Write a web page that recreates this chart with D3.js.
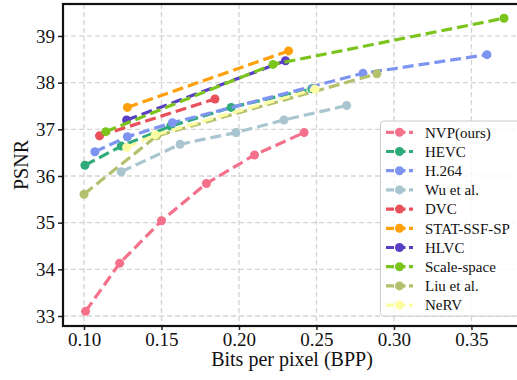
<!DOCTYPE html>
<html><head><meta charset="utf-8">
<script src="https://cdn.jsdelivr.net/npm/d3@7"></script>
<style>html,body{margin:0;padding:0;background:#fff;overflow:hidden}
svg text{font-family:"Liberation Serif","Tinos","DejaVu Serif",serif;}</style>
</head><body><svg id="c" width="517" height="380"></svg>
<script>
const seriesNames = ["NVP(ours)","HEVC","H.264","Wu et al.","DVC","STAT-SSF-SP","HLVC","Scale-space","Liu et al.","NeRV"];
const colors = ["#f5708a","#2eab79","#7d95f0","#a9c5cf","#e9505a","#ff9f0a","#5a3fc5","#7ac41c","#b4c06c","#fcfca3"];
const nvpX = [0.101,0.123,0.150,0.179,0.210,0.242];
const nvpY = [33.10,34.13,35.04,35.84,36.45,36.93];
const hevcX = [0.1006,0.124,0.156,0.195,0.247];
const hevcY = [36.23,36.64,37.07,37.47,37.87];
const h264X = [0.107,0.128,0.157,0.280,0.360];
const h264Y = [36.52,36.84,37.14,38.20,38.60];
const wuX = [0.124,0.162,0.198,0.229,0.2695];
const wuY = [36.09,36.68,36.93,37.20,37.51];
const dvcX = [0.110,0.1845];
const dvcY = [36.86,37.65];
const statX = [0.128,0.232];
const statY = [37.47,38.68];
const hlvcX = [0.1275,0.230];
const hlvcY = [37.20,38.47];
const scaleX = [0.114,0.222,0.371];
const scaleY = [36.95,38.39,39.38];
const liuX = [0.100,0.147,0.289];
const liuY = [35.61,36.86,38.19];
const nervX = [0.1275,0.146,0.249];
const nervY = [36.61,36.88,37.86];
const xTicks = [0.10,0.15,0.20,0.25,0.30,0.35];
const yTicks = [33,34,35,36,37,38,39];

const allX = [nvpX,hevcX,h264X,wuX,dvcX,statX,hlvcX,scaleX,liuX,nervX];
const allY = [nvpY,hevcY,h264Y,wuY,dvcY,statY,hlvcY,scaleY,liuY,nervY];

const L=63, R=524, T=4, B=326;
const x = d3.scaleLinear().domain([0.08645,0.3839]).range([L,R]);
const y = d3.scaleLinear().domain([32.786,39.685]).range([B,T]);
const svg = d3.select("#c");

// grid
const g = svg.append("g");
g.selectAll(".gx").data(xTicks).join("line")
 .attr("x1",d=>x(d)).attr("x2",d=>x(d)).attr("y1",T).attr("y2",B)
 .attr("stroke","#d4d4d4").attr("stroke-width",1.3).attr("stroke-dasharray","5,3");
g.selectAll(".gy").data(yTicks).join("line")
 .attr("x1",L).attr("x2",R).attr("y1",d=>y(d)).attr("y2",d=>y(d))
 .attr("stroke","#d4d4d4").attr("stroke-width",1.3).attr("stroke-dasharray","5,3");

// series
const line = d3.line().x(d=>x(d[0])).y(d=>y(d[1]));
seriesNames.forEach((name,i)=>{
  const pts = allX[i].map((v,j)=>[v,allY[i][j]]);
  const sg = svg.append("g");
  sg.append("path").datum(pts).attr("d",line).attr("fill","none")
    .attr("stroke",colors[i]).attr("stroke-width",3.2).attr("stroke-dasharray","11,5");
  sg.selectAll("circle").data(pts).join("circle")
    .attr("cx",d=>x(d[0])).attr("cy",d=>y(d[1])).attr("r",4.5).attr("fill",colors[i]);
});

// axes
const xAxis = svg.append("g").attr("transform",`translate(0,${B})`)
  .call(d3.axisBottom(x).tickValues(xTicks).tickFormat(d3.format(".2f")).tickSize(4).tickPadding(2));
const yAxis = svg.append("g").attr("transform",`translate(${L},0)`)
  .call(d3.axisLeft(y).tickValues(yTicks).tickFormat(d3.format("d")).tickSize(5).tickPadding(3));
[xAxis,yAxis].forEach(a=>{
  a.select(".domain").remove();
  a.selectAll("line").attr("stroke","#222").attr("stroke-width",1.5);
  a.selectAll("text").attr("font-family",null).attr("font-size",19).attr("fill","#111");
});
xAxis.selectAll("text").attr("dy","0.72em");

// frame
svg.append("rect").attr("x",L).attr("y",T).attr("width",R-L).attr("height",B-T)
  .attr("fill","none").attr("stroke","#111").attr("stroke-width",2.2);

// labels
svg.append("text").attr("x",292).attr("y",366).attr("text-anchor","middle")
  .attr("font-size",20).attr("fill","#111").text("Bits per pixel (BPP)");
svg.append("text").attr("transform","translate(28,165) rotate(-90)").attr("text-anchor","middle")
  .attr("font-size",20).attr("fill","#111").text("PSNR");

// legend
const lg = svg.append("g");
lg.append("rect").attr("x",380.5).attr("y",121).attr("width",150).attr("height",195).attr("rx",3)
  .attr("fill","#fff").attr("fill-opacity",0.8).attr("stroke","#cccccc").attr("stroke-width",1);
seriesNames.forEach((name,i)=>{
  const cy = 132.3 + i*19.2;
  lg.append("line").attr("x1",386).attr("x2",413).attr("y1",cy).attr("y2",cy)
    .attr("stroke",colors[i]).attr("stroke-width",3.2).attr("stroke-dasharray","8,3.5");
  lg.append("circle").attr("cx",399.5).attr("cy",cy).attr("r",4.5).attr("fill",colors[i]);
  lg.append("text").attr("x",425).attr("y",cy).attr("dy","0.35em")
    .attr("font-size",15).attr("fill","#111").text(name);
});
</script></body></html>
